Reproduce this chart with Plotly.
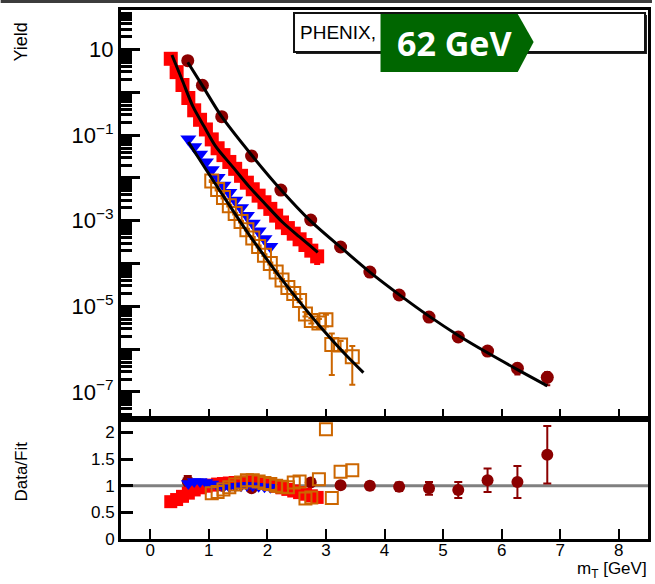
import plotly.graph_objects as go

# ---------------- data ----------------
# dark red circles
mt_c = [0.64, 0.89, 1.22, 1.73, 2.23, 2.74, 3.25, 3.75, 4.25, 4.76, 5.26, 5.76, 6.27, 6.78]
y_c = [5.47, 1.46, 0.269, 0.0325, 5.2e-3, 1.04e-3, 2.43e-4, 6.3e-5, 1.84e-5, 5.6e-6,
       1.92e-6, 9.0e-7, 3.56e-7, 2.19e-7]
ey_c = [0.5, 0.1, 0.015, 1.5e-3, 2.5e-4, 5e-5, 1.2e-5, 4.4e-6, 1.5e-6, 7e-7, 3e-7,
        1.8e-7, 1.0e-7, 7.5e-8]
r_c = [1.08, 1.02, 1.00, 0.95, 0.98, 1.06, 1.01, 1.00, 0.98, 0.95, 0.92, 1.10, 1.07, 1.58]
er_c = [0.10, 0.05, 0.03, 0.03, 0.03, 0.04, 0.05, 0.07, 0.08, 0.12, 0.15, 0.22, 0.30, 0.54]
fit_c_x = [0.64, 0.89, 1.22, 1.73, 2.23, 2.74, 3.25, 3.75, 4.25, 4.76, 5.26, 5.76, 6.27, 6.78]
fit_c_y = [5.06, 1.43, 0.269, 0.0342, 5.31e-3, 9.8e-4, 2.41e-4, 6.3e-5, 1.88e-5, 5.9e-6,
           2.09e-6, 8.2e-7, 3.33e-7, 1.39e-7]

# red full squares
mt_r = [0.35, 0.45, 0.55, 0.65, 0.75, 0.85, 0.95, 1.05, 1.15, 1.25, 1.35, 1.45, 1.55,
        1.65, 1.75, 1.85, 1.95, 2.05, 2.15, 2.25, 2.35, 2.45, 2.55, 2.65, 2.75, 2.85]
y_r = [6.07, 2.96, 1.48, 0.736, 0.380, 0.228, 0.1355, 0.0794, 0.0493, 0.0341, 0.0236,
       0.0163, 0.0112, 7.74e-3, 5.43e-3, 3.85e-3, 2.70e-3, 1.89e-3, 1.315e-3, 9.1e-4,
       6.73e-4, 4.98e-4, 3.68e-4, 2.71e-4, 2.0e-4, 1.47e-4]
ey_r = [0.1, 0.05, 0.02, 0.01, 5e-3, 3e-3, 2e-3, 1e-3, 7e-4, 5e-4, 3e-4, 2e-4, 1.5e-4,
        1e-4, 8e-5, 6e-5, 4e-5, 3e-5, 2e-5, 1.5e-5, 1.2e-5, 1e-5, 1e-5, 1e-5, 1.5e-5, 5e-5]
r_r = [0.70, 0.74, 0.80, 0.86, 0.92, 0.96, 0.99, 1.01, 1.03, 1.04, 1.05, 1.06, 1.06,
       1.07, 1.07, 1.06, 1.04, 1.02, 0.99, 0.96, 0.93, 0.90, 0.87, 0.84, 0.81, 0.78]
fit_r_x = [0.37, 0.55, 0.73, 0.92, 1.12, 1.40, 1.69, 1.97, 2.25, 2.55, 2.86]
fit_r_y = [7.43, 1.86, 0.461, 0.158, 0.0536, 0.0186, 6.22e-3, 2.40e-3, 9.48e-4, 4.17e-4, 1.83e-4]

# blue triangles
mt_b = [0.65, 0.75, 0.85, 0.95, 1.05, 1.15, 1.25, 1.35, 1.45, 1.55, 1.65, 1.75, 1.85, 1.95, 2.05]
y_b = [0.0813, 0.0537, 0.0355, 0.0234, 0.0155, 0.0102, 6.76e-3, 4.57e-3, 3.02e-3, 2.0e-3,
       1.32e-3, 8.7e-4, 5.75e-4, 3.8e-4, 2.51e-4]
r_b = [1.04, 1.08, 1.08, 1.06, 1.03, 1.00, 0.98, 0.98, 0.99, 1.00, 1.01, 1.00, 0.99, 0.98, 0.97]

# orange open squares
mt_o = [1.05, 1.15, 1.25, 1.35, 1.45, 1.55, 1.65, 1.75, 1.85, 1.95, 2.05, 2.15, 2.25,
        2.35, 2.45, 2.55, 2.65, 2.75, 2.88, 3.00, 3.10, 3.25, 3.45]
y_o = [8.43e-3, 5.33e-3, 3.48e-3, 2.25e-3, 1.47e-3, 9.55e-4, 6.19e-4, 3.95e-4, 2.51e-4,
       1.57e-4, 1.00e-4, 6.34e-5, 4.11e-5, 2.74e-5, 2.0e-5, 1.37e-5, 6.61e-6, 4.65e-6,
       4.08e-6, 4.88e-6, 1.29e-6, 1.25e-6, 6.67e-7]
ey_o = [4e-4, 2.5e-4, 1.7e-4, 1.1e-4, 7e-5, 5e-5, 3e-5, 2e-5, 1.3e-5, 8e-6, 5e-6, 3.5e-6,
        2.5e-6, 1.8e-6, 1.5e-6, 1.2e-6, 8e-7, 7e-7, 1.0e-6, 1.5e-6, 1.04e-6, 3e-7, 5.2e-7]
r_o = [0.86, 0.88, 0.93, 0.97, 1.02, 1.06, 1.10, 1.10, 1.08, 1.05, 1.03, 1.00, 0.98,
       0.97, 1.06, 1.08, 0.76, 0.78, 1.12, 2.06, 0.77, 1.26, 1.29]
fit_o_x = [0.65, 0.96, 1.40, 1.69, 2.00, 2.20, 2.54, 2.93, 3.30, 3.64]
fit_o_y = [0.0692, 0.0151, 1.82e-3, 4.68e-4, 1.20e-4, 5.13e-5, 1.32e-5, 3.02e-6, 8.32e-7, 2.82e-7]

x_ticks = [0, 1, 2, 3, 4, 5, 6, 7, 8]
x_ticktext = ["0", "1", "2", "3", "4", "5", "6", "7", "8"]
y_exps = [1, 0, -1, -2, -3, -4, -5, -6, -7]
r_ticks = [0, 0.5, 1, 1.5, 2]
r_ticktext = ["0", "0.5", "1", "1.5", "2"]

# ---------------- styles ----------------
C_DR = "#8b0000"
C_RED = "#ff0000"
C_BLUE = "#0000ff"
C_OR = "#cc6600"
FONT = "Liberation Sans, Arial, Helvetica, sans-serif"

fig = go.Figure()

def err(arr, col, w=3):
    return dict(type="data", array=arr, visible=True, color=col, thickness=2, width=w)

# top panel markers
fig.add_trace(go.Scatter(x=mt_c, y=y_c, mode="markers", error_y=err(ey_c, C_DR),
                         marker=dict(symbol="circle", size=13, color=C_DR),
                         xaxis="x", yaxis="y", showlegend=False))
fig.add_trace(go.Scatter(x=mt_r, y=y_r, mode="markers", error_y=err(ey_r, C_RED),
                         marker=dict(symbol="square", size=14, color=C_RED),
                         xaxis="x", yaxis="y", showlegend=False))
fig.add_trace(go.Scatter(x=mt_b, y=y_b, mode="markers",
                         marker=dict(symbol="triangle-down", size=14, color=C_BLUE),
                         xaxis="x", yaxis="y", showlegend=False))
fig.add_trace(go.Scatter(x=mt_o, y=y_o, mode="markers", error_y=err(ey_o, C_OR),
                         marker=dict(symbol="square-open", size=13, color=C_OR,
                                     line=dict(width=2, color=C_OR)),
                         xaxis="x", yaxis="y", showlegend=False))
# fit curves
for fx, fy in [(fit_c_x, fit_c_y), (fit_r_x, fit_r_y), (fit_o_x, fit_o_y)]:
    fig.add_trace(go.Scatter(x=fx, y=fy, mode="lines",
                             line=dict(color="black", width=3, shape="spline", smoothing=0.8),
                             xaxis="x", yaxis="y", showlegend=False, hoverinfo="skip"))

# ratio panel
fig.add_trace(go.Scatter(x=mt_c, y=r_c, mode="markers", error_y=err(er_c, C_DR, 4),
                         marker=dict(symbol="circle", size=12, color=C_DR),
                         xaxis="x2", yaxis="y2", showlegend=False))
fig.add_trace(go.Scatter(x=mt_r, y=r_r, mode="markers",
                         marker=dict(symbol="square", size=13, color=C_RED),
                         xaxis="x2", yaxis="y2", showlegend=False))
fig.add_trace(go.Scatter(x=mt_b, y=r_b, mode="markers",
                         marker=dict(symbol="triangle-down", size=13, color=C_BLUE),
                         xaxis="x2", yaxis="y2", showlegend=False))
fig.add_trace(go.Scatter(x=mt_o, y=r_o, mode="markers",
                         marker=dict(symbol="square-open", size=12, color=C_OR,
                                     line=dict(width=2, color=C_OR)),
                         xaxis="x2", yaxis="y2", showlegend=False))

# ---------------- axes ----------------
top_ticktext = []
for k in y_exps:
    if k % 2 == 0:
        top_ticktext.append(" ")
    elif k == 1:
        top_ticktext.append("10")
    else:
        top_ticktext.append("10<sup>\u2212%d</sup>" % (-k))
minor_vals = [m * 10.0 ** k for k in range(-8, 2) for m in range(2, 10)]

axis_common = dict(showline=True, linewidth=3, linecolor="black", mirror=True,
                   showgrid=False, zeroline=False, ticks="inside", tickcolor="black")

fig.update_layout(
    width=655, height=584, autosize=False,
    margin=dict(l=121, r=4, t=10, b=45),
    paper_bgcolor="white", plot_bgcolor="white",
    font=dict(family=FONT, color="black"),
    xaxis=dict(domain=[0, 1], range=[-0.5, 8.5], anchor="y", tickvals=x_ticks,
               showticklabels=False, ticklen=10, tickwidth=2, **axis_common),
    yaxis=dict(domain=[0.2268, 1], type="log", range=[-7.633, 1.923], anchor="x",
               tickvals=[10.0 ** k for k in y_exps], ticktext=top_ticktext,
               ticklen=19, tickwidth=2.5, tickfont=dict(size=22, family=FONT),
               minor=dict(tickmode="array", tickvals=minor_vals, ticks="inside",
                          ticklen=11, tickwidth=2.5, tickcolor="black"),
               **axis_common),
    xaxis2=dict(domain=[0, 1], range=[-0.5, 8.5], anchor="y2", tickvals=x_ticks,
                ticktext=x_ticktext, ticklen=10, tickwidth=2, ticklabelstandoff=-6,
                tickfont=dict(size=17, family=FONT), **axis_common),
    yaxis2=dict(domain=[0, 0.2268], range=[0, 2.25], anchor="x2", tickvals=r_ticks,
                ticktext=r_ticktext, ticklen=12, tickwidth=2.5,
                tickfont=dict(size=17, family=FONT), **axis_common),
)

# unity line in ratio panel
fig.add_shape(type="line", xref="x2 domain", yref="y2", x0=0, x1=1, y0=1, y1=1,
              line=dict(color="#808080", width=3), layer="below")

def px(xp):
    return (xp - 121) / 530.0

def py(yp):
    return (539 - yp) / 529.0

# top dark strip
fig.add_shape(type="rect", xref="paper", yref="paper", x0=px(0), x1=px(655),
              y0=py(3), y1=py(0), fillcolor="#3c3c3c", line=dict(width=0))
# legend box with shadow
fig.add_shape(type="rect", xref="paper", yref="paper", x0=px(297), x1=px(650),
              y0=py(54), y1=py(15), fillcolor="#222222", line=dict(width=0))
fig.add_shape(type="rect", xref="paper", yref="paper", x0=px(295), x1=px(648),
              y0=py(52), y1=py(13), fillcolor="white", line=dict(color="#111111", width=2))
# green energy badge
path = "M %f,%f L %f,%f L %f,%f L %f,%f L %f,%f Z" % (
    px(382), py(14), px(520), py(14), px(536), py(42), px(520), py(72), px(382), py(72))
fig.add_shape(type="path", xref="paper", yref="paper", path=path,
              fillcolor="#006600", line=dict(width=0))

fig.add_annotation(text="PHENIX,", xref="paper", yref="paper", x=px(299), y=py(33),
                   xanchor="left", yanchor="middle", showarrow=False,
                   font=dict(size=19, family=FONT, color="black"))
fig.add_annotation(text="<b>62 GeV</b>", xref="paper", yref="paper", x=px(456), y=py(43),
                   xanchor="center", yanchor="middle", showarrow=False,
                   font=dict(size=34, family="Open Sans, Noto Sans, sans-serif", color="white"))
fig.add_annotation(text="Yield", xref="paper", yref="paper", x=px(20), y=py(42),
                   xanchor="center", yanchor="middle", textangle=-90, showarrow=False,
                   font=dict(size=18, family=FONT, color="black"))
fig.add_annotation(text="Data/Fit", xref="paper", yref="paper", x=px(20), y=py(472),
                   xanchor="center", yanchor="middle", textangle=-90, showarrow=False,
                   font=dict(size=17, family=FONT, color="black"))
fig.add_annotation(text="m<sub>T</sub> [GeV]", xref="paper", yref="paper", x=px(578),
                   y=py(570), xanchor="left", yanchor="middle", showarrow=False,
                   font=dict(size=17, family=FONT, color="black"))

fig.write_html("out.html", config={"displayModeBar": False},
               post_script="document.body.style.margin='0';document.body.style.overflow='hidden';")
